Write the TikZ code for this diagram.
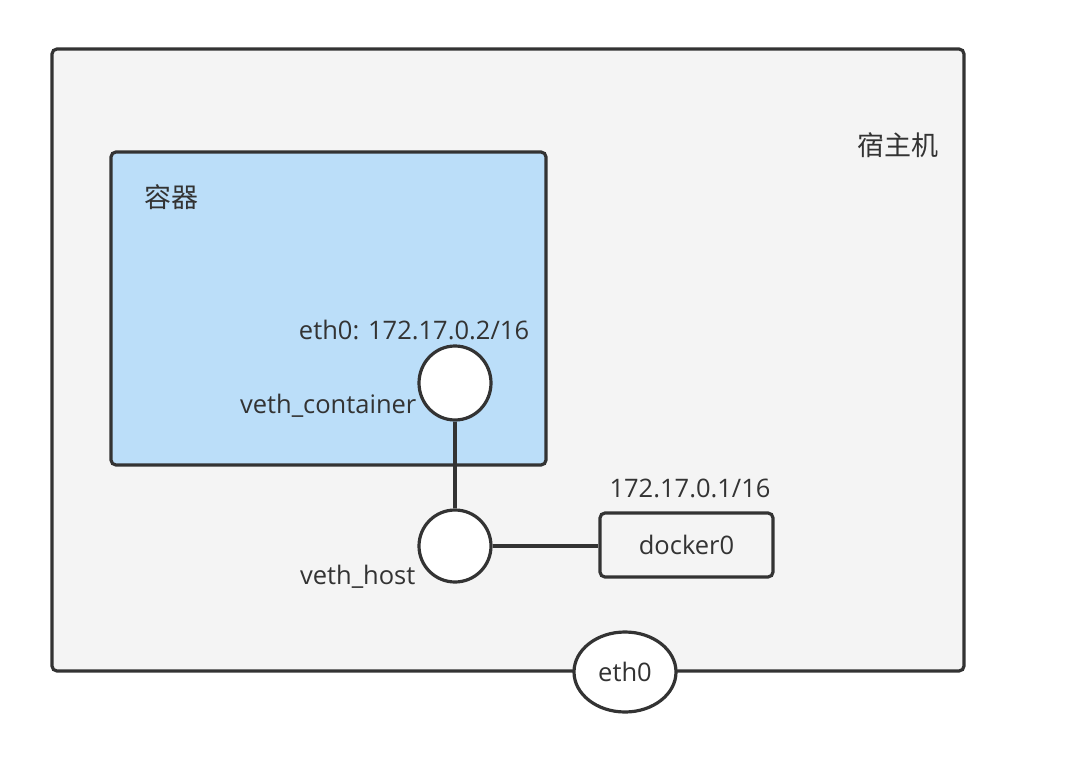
\documentclass[tikz,border=0pt]{standalone}
\usepackage{fontspec}
\setmainfont{Open Sans}
\newfontfamily\cjk{Noto Sans CJK SC}
\usepackage{tikz}
\usetikzlibrary{shapes.geometric, positioning}
\definecolor{lineclr}{HTML}{333333}
\definecolor{hostclr}{HTML}{F4F4F4}
\definecolor{ctrclr}{HTML}{BBDEF9}

\begin{document}
\begin{tikzpicture}[x=1pt, y=-1pt, line width=3.2pt, draw=lineclr,
    every node/.style={text=lineclr, font=\fontsize{25.5}{28}\selectfont},
    cjklbl/.style={font=\cjk\fontsize{27}{30}\selectfont},
    port/.style={draw, fill=white, ellipse, minimum width=72pt, minimum height=74pt, inner sep=0pt},
    box/.style={draw, rounded corners=5pt}]
    \useasboundingbox (0,0) rectangle (1070,762);
    % Host
    \draw [box, fill=hostclr] (52,49) rectangle (964,671);
    \node [cjklbl, anchor=east, inner sep=0pt] (host) at (940,145) {宿主机};
    % Container
    \draw [box, fill=ctrclr] (111,152) rectangle (546,465);
    \node [cjklbl, anchor=west, inner sep=0pt] (ctr) at (143,197) {容器};
    % Ports
    \node [port] (vc) at (455,383) {};
    \node [port, minimum height=72pt] (vh) at (455,546) {};
    \node [anchor=base east, inner sep=0pt] (vclbl) at (418,413) {veth\_container};
    \node [anchor=base east, inner sep=0pt] (vhlbl) at (417,584) {veth\_host};
    \node [anchor=base, inner sep=0pt] (ip2) at (414,339) {eth0: 172.17.0.2/16};
    % Bridge
    \node [box, minimum width=173pt, minimum height=64pt] (dk) at (686.5,545) {docker0};
    \node [anchor=base, inner sep=0pt] (ip1) at (690,497) {172.17.0.1/16};
    % Host NIC
    \node [draw, fill=white, ellipse, minimum width=102pt, minimum height=80pt, inner sep=0pt] (eth) at (625,672) {eth0};
    % Connections
    \draw (vc) -- (vh);
    \draw (vh) -- (vh -| dk.west);
\end{tikzpicture}
\end{document}
